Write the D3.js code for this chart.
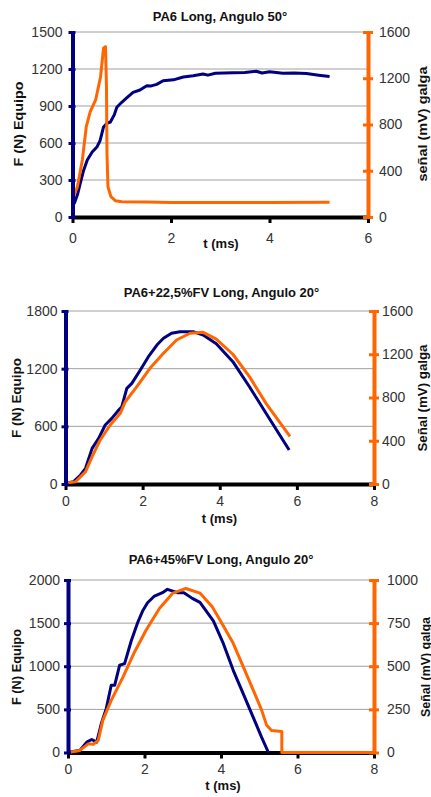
<!DOCTYPE html>
<html>
<head>
<meta charset="utf-8">
<script src="https://cdn.jsdelivr.net/npm/d3@7"></script>
<style>
    body { margin: 0; background: #fff; }
    svg { display: block; font-family: "Liberation Sans", Arial, sans-serif; }
    .tick text { fill: #333; font-size: 14px; }
    .title, .axis-title { font-weight: bold; fill: #111; }
</style>
</head>
<body>
<div id="Charts"></div>
<script>

// panel 1 : PA6 Long, Angulo 50
const p1Titles = ['PA6 Long, Angulo 50°', 'F (N) Equipo', 'señal (mV) galga'];
const p1XTicks = [0, 2, 4, 6];
const p1LeftTicks = [0, 300, 600, 900, 1200, 1500];
const p1RightTicks = [0, 400, 800, 1200, 1600];
const p1Force = [[0, 100], [0.04, 113], [0.1, 180], [0.16, 276], [0.22, 370], [0.3, 462], [0.4, 527],
    [0.5, 570], [0.56, 620], [0.63, 730], [0.7, 760], [0.77, 770], [0.85, 830], [0.9, 890], [1.0, 930],
    [1.1, 965], [1.23, 1010], [1.37, 1030], [1.45, 1050], [1.51, 1065], [1.6, 1063], [1.71, 1075],
    [1.84, 1105], [2.05, 1112], [2.25, 1135], [2.45, 1145], [2.65, 1160], [2.75, 1150], [2.9, 1165],
    [3.26, 1170], [3.5, 1172], [3.73, 1182], [3.85, 1168], [4.0, 1178], [4.27, 1165], [4.5, 1168],
    [4.75, 1163], [5.0, 1150], [5.22, 1140]];
const p1Signal = [[0, 0], [0.01, 170], [0.1, 262], [0.2, 493], [0.28, 781], [0.36, 911], [0.47, 1012],
    [0.57, 1213], [0.63, 1460], [0.67, 1473], [0.69, 1127], [0.7, 551], [0.72, 262], [0.78, 176],
    [0.87, 141], [1.0, 132], [1.5, 130], [2.0, 126], [3.0, 125], [4.0, 126], [5.22, 128]];

// panel 2 : PA6+22,5%FV Long, Angulo 20
const p2Titles = ['PA6+22,5%FV Long, Angulo 20°', 'F (N) Equipo', 'Señal (mV) galga'];
const p2XTicks = [0, 2, 4, 6, 8];
const p2LeftTicks = [0, 600, 1200, 1800];
const p2RightTicks = [0, 400, 800, 1200, 1600];
const p2Force = [[0, 7], [0.21, 24], [0.39, 94], [0.52, 163], [0.69, 371], [0.86, 475], [1.03, 614],
    [1.2, 683], [1.38, 770], [1.46, 804], [1.59, 995], [1.72, 1047], [1.94, 1186], [2.15, 1325],
    [2.37, 1446], [2.54, 1516], [2.75, 1568], [2.97, 1585], [3.31, 1585], [3.57, 1550], [3.91, 1460],
    [4.34, 1273], [4.77, 1012], [5.2, 736], [5.8, 354]];
const p2Signal = [[0, 8], [0.26, 21], [0.52, 114], [0.69, 253], [0.9, 407], [1.16, 546], [1.42, 654],
    [1.55, 761], [1.85, 900], [2.19, 1070], [2.54, 1209], [2.88, 1332], [3.23, 1394], [3.57, 1403],
    [3.91, 1340], [4.34, 1200], [4.77, 993], [5.2, 746], [5.82, 440]];

// panel 3 : PA6+45%FV Long, Angulo 20
const p3Titles = ['PA6+45%FV Long, Angulo 20°', 'F (N) Equipo', 'Señal (mV) galga'];
const p3XTicks = [0, 2, 4, 6, 8];
const p3LeftTicks = [0, 500, 1000, 1500, 2000];
const p3RightTicks = [0, 250, 500, 750, 1000];
const p3Force = [[0, 3], [0.31, 23], [0.49, 120], [0.62, 151], [0.75, 120], [0.87, 333], [1.0, 508],
    [1.13, 779], [1.22, 779], [1.35, 1012], [1.48, 1030], [1.65, 1290], [1.82, 1504], [1.95, 1640],
    [2.08, 1736], [2.26, 1814], [2.47, 1853], [2.6, 1892], [2.86, 1853], [3.03, 1853], [3.25, 1787],
    [3.45, 1740], [3.8, 1525], [4.06, 1264], [4.32, 953], [4.58, 682], [4.84, 411], [5.06, 178], [5.24, 0]];
const p3Signal = [[0, 0], [0.31, 12], [0.53, 50], [0.66, 48], [0.79, 70], [0.91, 186], [1.13, 302],
    [1.44, 438], [1.74, 583], [2.04, 709], [2.39, 835], [2.73, 922], [3.08, 951], [3.45, 924],
    [3.77, 845], [3.97, 769], [4.32, 633], [4.58, 498], [4.84, 363], [5.06, 247], [5.19, 160],
    [5.32, 128], [5.59, 122], [5.59, 0], [8, 0]];

const NAVY = '#000080';
const ORANGE = '#ff6600';
const fmt = d3.format('d');

const svg = d3.select('#Charts').append('svg')
    .attr('width', 431)
    .attr('height', 797);

function drawPanel(p) {
    let x = d3.scaleLinear().domain([0, d3.max(p.xTicks)]).range([p.x0, p.x1]);
    let yL = d3.scaleLinear().domain([0, d3.max(p.leftTicks)]).range([p.bottom, p.top]);
    let yR = d3.scaleLinear().domain([0, d3.max(p.rightTicks)]).range([p.bottom, p.top]);

    let g = svg.append('g');

    // gridlines from the left axis ticks
    g.selectAll('.grid').data(p.leftTicks.filter(d => d > 0)).enter()
        .append('line')
        .attr('x1', p.x0).attr('x2', p.x1)
        .attr('y1', d => yL(d)).attr('y2', d => yL(d))
        .attr('stroke', '#a0a0a0').attr('stroke-width', 1);

    // x axis (under the data, the orange trace runs over it)
    let xAxis = g.append('g')
        .attr('transform', `translate(0,${p.bottom})`)
        .call(d3.axisBottom(x).tickValues(p.xTicks).tickFormat(fmt)
            .tickSize(6).tickPadding(p.xPad).tickSizeOuter(0));
    xAxis.select('.domain').attr('stroke', '#000').attr('stroke-width', 4);
    xAxis.selectAll('.tick line').attr('stroke', '#000').attr('stroke-width', 3);

    let line = (ys) => d3.line().x(d => x(d[0])).y(d => ys(d[1]));

    g.append('path').datum(p.force)
        .attr('d', line(yL))
        .attr('fill', 'none').attr('stroke', NAVY)
        .attr('stroke-width', 3).attr('stroke-linejoin', 'round');

    g.append('path').datum(p.signal)
        .attr('d', line(yR))
        .attr('fill', 'none').attr('stroke', ORANGE)
        .attr('stroke-width', 3).attr('stroke-linejoin', 'round');

    let leftAxis = g.append('g')
        .attr('transform', `translate(${p.x0},0)`)
        .call(d3.axisLeft(yL).tickValues(p.leftTicks).tickFormat(fmt)
            .tickSize(4).tickPadding(p.lPad).tickSizeOuter(0));
    leftAxis.select('.domain').attr('stroke', NAVY).attr('stroke-width', 4);
    leftAxis.selectAll('.tick line').attr('stroke', NAVY).attr('stroke-width', 3).attr('x2', -4).attr('x1', 3);

    let rightAxis = g.append('g')
        .attr('transform', `translate(${p.x1},0)`)
        .call(d3.axisRight(yR).tickValues(p.rightTicks).tickFormat(fmt)
            .tickSize(5).tickPadding(p.rPad).tickSizeOuter(0));
    rightAxis.select('.domain').attr('stroke', ORANGE).attr('stroke-width', 4);
    rightAxis.selectAll('.tick line').attr('stroke', ORANGE).attr('stroke-width', 3).attr('x1', -5).attr('x2', 5);

    g.selectAll('.tick text').attr('font-family', null).attr('font-size', null);

    // titles
    g.append('text').classed('title', true)
        .attr('x', p.titleX).attr('y', p.titleY)
        .attr('text-anchor', 'middle').attr('font-size', 13)
        .text(p.titles[0]);

    g.append('text').classed('axis-title', true)
        .attr('x', p.tX).attr('y', p.tY)
        .attr('text-anchor', 'middle').attr('font-size', 13)
        .text('t (ms)');

    g.append('text').classed('axis-title', true)
        .attr('transform', `translate(${p.lTitleX},${p.midY}) rotate(-90)`)
        .attr('text-anchor', 'middle').attr('font-size', 12)
        .attr('textLength', p.lLen).attr('lengthAdjust', 'spacingAndGlyphs')
        .text(p.titles[1]);

    g.append('text').classed('axis-title', true)
        .attr('transform', `translate(${p.rTitleX},${p.midY}) rotate(-90)`)
        .attr('text-anchor', 'middle').attr('font-size', 12)
        .attr('textLength', p.rLen).attr('lengthAdjust', 'spacingAndGlyphs')
        .text(p.titles[2]);
}

drawPanel({
    titles: p1Titles, xTicks: p1XTicks, leftTicks: p1LeftTicks, rightTicks: p1RightTicks,
    force: p1Force, signal: p1Signal,
    x0: 72.5, x1: 368, top: 32, bottom: 217,
    xPad: 10, lPad: 6, rPad: 6,
    titleX: 220, titleY: 20.5, tX: 221, tY: 248,
    lTitleX: 23, rTitleX: 427, midY: 124, lLen: 85, rLen: 115
});

drawPanel({
    titles: p2Titles, xTicks: p2XTicks, leftTicks: p2LeftTicks, rightTicks: p2RightTicks,
    force: p2Force, signal: p2Signal,
    x0: 65.5, x1: 374, top: 311, bottom: 484,
    xPad: 6, lPad: 4, rPad: 3,
    titleX: 221.5, titleY: 296.5, tX: 219.5, tY: 523,
    lTitleX: 21, rTitleX: 427, midY: 398, lLen: 80, rLen: 107
});

drawPanel({
    titles: p3Titles, xTicks: p3XTicks, leftTicks: p3LeftTicks, rightTicks: p3RightTicks,
    force: p3Force, signal: p3Signal,
    x0: 68, x1: 374, top: 580, bottom: 752.5,
    xPad: 6, lPad: 4, rPad: 8,
    titleX: 221, titleY: 564, tX: 223, tY: 790,
    lTitleX: 21, rTitleX: 429.5, midY: 667, lLen: 76, rLen: 100
});

</script>
</body>
</html>
